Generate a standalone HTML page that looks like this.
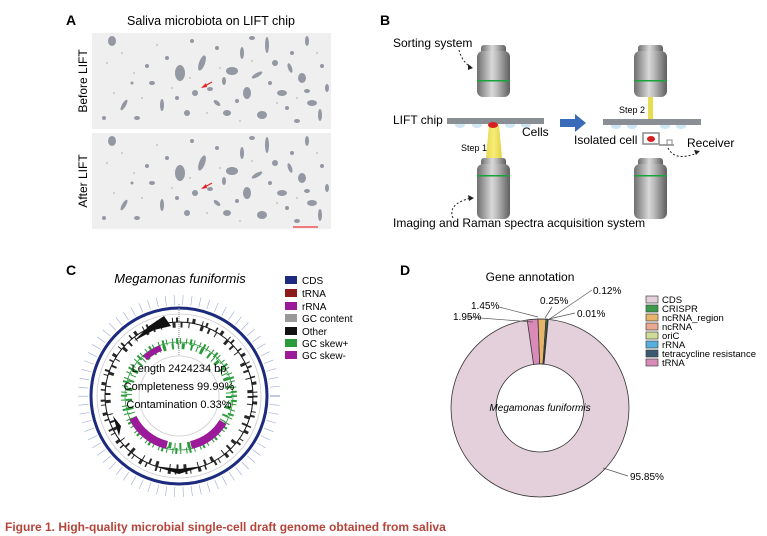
<!DOCTYPE html>
<html><head><meta charset="utf-8"><style>
html,body{margin:0;padding:0;background:#fff}
svg{display:block;font-family:"Liberation Sans",Arial,sans-serif}
</style></head><body>
<svg width="767" height="536" viewBox="0 0 767 536" xmlns="http://www.w3.org/2000/svg">
<defs>
<linearGradient id="obj" x1="0" x2="1" y1="0" y2="0">
<stop offset="0" stop-color="#6e6e6e"/><stop offset="0.45" stop-color="#d8d8d8"/><stop offset="0.6" stop-color="#bdbdbd"/><stop offset="1" stop-color="#5e5e5e"/>
</linearGradient>
<linearGradient id="beam" x1="0" x2="1"><stop offset="0" stop-color="#e8d84a"/><stop offset="0.5" stop-color="#f6ec7a"/><stop offset="1" stop-color="#e3d240"/></linearGradient>
<g id="blobs" fill="#7d8290" fill-opacity="0.8">
<ellipse cx="20" cy="8" rx="4" ry="5"/><ellipse cx="60" cy="50" rx="3" ry="2"/><ellipse cx="32" cy="72" rx="2" ry="6" transform="rotate(30 32 72)"/>
<ellipse cx="75" cy="25" rx="2" ry="2"/><ellipse cx="88" cy="40" rx="5" ry="8"/><ellipse cx="103" cy="60" rx="3" ry="3"/>
<ellipse cx="110" cy="30" rx="3" ry="8" transform="rotate(20 110 30)"/><ellipse cx="125" cy="15" rx="2" ry="2"/><ellipse cx="140" cy="38" rx="6" ry="4"/>
<ellipse cx="118" cy="56" rx="3" ry="2"/><ellipse cx="150" cy="20" rx="2" ry="6"/><ellipse cx="155" cy="60" rx="4" ry="6"/>
<ellipse cx="165" cy="42" rx="6" ry="2" transform="rotate(-30 165 42)"/><ellipse cx="175" cy="12" rx="2" ry="8"/><ellipse cx="183" cy="30" rx="3" ry="3"/>
<ellipse cx="190" cy="60" rx="5" ry="3"/><ellipse cx="200" cy="20" rx="2" ry="2"/><ellipse cx="210" cy="45" rx="4" ry="5"/>
<ellipse cx="220" cy="70" rx="5" ry="3"/><ellipse cx="230" cy="33" rx="2" ry="2"/><ellipse cx="228" cy="82" rx="2" ry="6"/>
<ellipse cx="12" cy="85" rx="2" ry="2"/><ellipse cx="45" cy="85" rx="3" ry="2"/><ellipse cx="70" cy="72" rx="2" ry="6"/>
<ellipse cx="95" cy="80" rx="3" ry="3"/><ellipse cx="135" cy="80" rx="4" ry="3"/><ellipse cx="170" cy="82" rx="5" ry="4"/>
<ellipse cx="205" cy="88" rx="3" ry="2"/><ellipse cx="55" cy="33" rx="2" ry="2"/><ellipse cx="100" cy="8" rx="2" ry="2"/>
<ellipse cx="160" cy="5" rx="3" ry="2"/><ellipse cx="215" cy="8" rx="2" ry="5"/><ellipse cx="85" cy="65" rx="2" ry="2"/>
<ellipse cx="145" cy="68" rx="2" ry="2"/><ellipse cx="195" cy="75" rx="2" ry="2"/><ellipse cx="40" cy="50" rx="1.5" ry="1.5"/>
<ellipse cx="125" cy="70" rx="4" ry="2" transform="rotate(40 125 70)"/><ellipse cx="178" cy="50" rx="2" ry="2"/><ellipse cx="235" cy="55" rx="2" ry="4"/>
<ellipse cx="198" cy="35" rx="2" ry="5" transform="rotate(-20 198 35)"/><ellipse cx="132" cy="48" rx="2" ry="4"/><ellipse cx="215" cy="58" rx="3" ry="2"/>
</g>
<g id="specks" fill="#b8a898" fill-opacity="0.6">
<circle cx="15" cy="30" r="1"/><circle cx="30" cy="20" r="1"/><circle cx="50" cy="65" r="1"/><circle cx="65" cy="12" r="1"/><circle cx="80" cy="55" r="1"/>
<circle cx="98" cy="45" r="1"/><circle cx="115" cy="80" r="1"/><circle cx="128" cy="35" r="1"/><circle cx="148" cy="88" r="1"/><circle cx="160" cy="28" r="1"/>
<circle cx="185" cy="70" r="1"/><circle cx="205" cy="65" r="1"/><circle cx="225" cy="20" r="1"/><circle cx="22" cy="60" r="1"/><circle cx="42" cy="40" r="1"/>
</g>
</defs>

<!-- Panel A -->
<text x="66" y="25" font-size="14" font-weight="bold">A</text>
<text x="211" y="25" font-size="12.5" text-anchor="middle">Saliva microbiota on LIFT chip</text>
<rect x="92" y="33" width="239" height="96" fill="#efefef"/>
<rect x="92" y="133" width="239" height="96" fill="#efefef"/>
<use href="#blobs" x="92" y="33"/>
<use href="#blobs" x="92" y="133"/>
<use href="#specks" x="92" y="33"/>
<use href="#specks" x="92" y="133"/>
<text transform="translate(87 81) rotate(-90)" font-size="12" text-anchor="middle">Before LIFT</text>
<text transform="translate(87 181) rotate(-90)" font-size="12" text-anchor="middle">After LIFT</text>
<g stroke="#e52222" stroke-width="1.2" fill="#e52222">
<line x1="212" y1="82" x2="203" y2="87"/><polygon points="201,88 206,83 207,87" stroke="none"/>
<line x1="212" y1="183" x2="203" y2="188"/><polygon points="201,189 206,184 207,188" stroke="none"/>
</g>
<line x1="293" y1="227" x2="318" y2="227" stroke="#e55" stroke-width="1.5"/>

<!-- Panel B -->
<text x="380" y="25" font-size="14" font-weight="bold">B</text>
<text x="393" y="47" font-size="12">Sorting system</text>
<path d="M459 50 Q462 62 471 67" fill="none" stroke="#222" stroke-dasharray="2,2"/><polygon points="473,68 468,64 468,70" fill="#222"/>
<g>
<rect x="481" y="45" width="25" height="9" rx="3" fill="url(#obj)"/>
<rect x="477" y="51" width="33" height="46" rx="6" fill="url(#obj)"/>
<rect x="477" y="80" width="33" height="1.5" fill="#1aa33a"/>
<rect x="481" y="158" width="25" height="9" rx="3" fill="url(#obj)"/>
<rect x="477" y="164" width="33" height="55" rx="6" fill="url(#obj)"/>
<rect x="477" y="175" width="33" height="1.5" fill="#1aa33a"/>
<rect x="638" y="45" width="25" height="9" rx="3" fill="url(#obj)"/>
<rect x="634" y="51" width="33" height="46" rx="6" fill="url(#obj)"/>
<rect x="634" y="80" width="33" height="1.5" fill="#1aa33a"/>
<rect x="638" y="158" width="25" height="9" rx="3" fill="url(#obj)"/>
<rect x="634" y="164" width="33" height="55" rx="6" fill="url(#obj)"/>
<rect x="634" y="175" width="33" height="1.5" fill="#1aa33a"/>
</g>
<polygon points="489,125 499,125 502,158 486,158" fill="url(#beam)"/>
<g fill="#cfe6f5"><ellipse cx="460" cy="125" rx="5" ry="3"/><ellipse cx="477" cy="125" rx="5" ry="3"/><ellipse cx="510" cy="125" rx="5" ry="3"/><ellipse cx="526" cy="125" rx="5" ry="3"/>
<ellipse cx="616" cy="126" rx="5" ry="3"/><ellipse cx="632" cy="126" rx="5" ry="3"/><ellipse cx="665" cy="126" rx="5" ry="3"/><ellipse cx="681" cy="126" rx="5" ry="3"/></g>
<rect x="447" y="118" width="97" height="6" fill="#8a8f96"/>
<ellipse cx="493" cy="125" rx="5" ry="3" fill="#d61f1f"/>
<rect x="603" y="119" width="98" height="6" fill="#8a8f96"/>
<rect x="648" y="97" width="5" height="22" fill="#e8dc50"/>
<text x="393" y="124" font-size="12">LIFT chip</text>
<text x="522" y="136" font-size="12">Cells</text>
<text x="461" y="151" font-size="9">Step 1</text>
<text x="619" y="113" font-size="9">Step 2</text>
<polygon points="560,119 575,119 575,114 586,123 575,132 575,127 560,127" fill="#3a6bb8"/>
<text x="574" y="144" font-size="12">Isolated cell</text>
<rect x="643" y="133" width="16" height="11" fill="#fff" stroke="#888" stroke-width="1.5"/>
<ellipse cx="651" cy="139" rx="4" ry="3" fill="#d61f1f"/>
<line x1="659" y1="145" x2="674" y2="145" stroke="#888" stroke-width="1.5"/>
<rect x="667" y="140" width="5" height="5" fill="none" stroke="#888"/>
<text x="687" y="147" font-size="12">Receiver</text>
<path d="M668 148 Q675 162 697 153" fill="none" stroke="#222" stroke-dasharray="2,2"/><polygon points="700,151 694,150 696,155" fill="#222"/>
<path d="M453 218 Q447 204 471 198" fill="none" stroke="#222" stroke-dasharray="2,2"/><polygon points="474,198 468,195 469,201" fill="#222"/>
<text x="393" y="227" font-size="12">Imaging and Raman spectra acquisition system</text>

<!-- Panel C -->
<text x="66" y="275" font-size="14" font-weight="bold">C</text>
<text x="180" y="283" font-size="13" font-style="italic" text-anchor="middle">Megamonas funiformis</text>
<g transform="translate(179 396)">
<circle r="96" fill="none" stroke="#6f86cc" stroke-width="10" stroke-dasharray="0.6,8" opacity="0.7"/>
<circle r="88" fill="none" stroke="#1c2b7e" stroke-width="3"/>
<circle r="82" fill="none" stroke="#ccc" stroke-width="0.8"/>
<circle r="40" fill="none" stroke="#ccc" stroke-width="0.8"/>
<circle r="74" fill="none" stroke="#111" stroke-width="1"/>
<circle r="76" fill="none" stroke="#111" stroke-width="5" stroke-dasharray="1.5,4,3,7,1,3,2,9" opacity="0.9"/>
<circle r="71" fill="none" stroke="#111" stroke-width="5" stroke-dasharray="2,6,1,11,3,5" opacity="0.9"/>
<path d="M-45,-55 L-30,-70 L-15,-80 L-8,-70 L-25,-66 Z" fill="#111"/>
<path d="M-60,40 L-66,20 L-58,30 Z" fill="#111"/>
<path d="M-25,70 L0,73 L25,70 L0,78 Z" fill="#111"/>
<circle r="54" fill="none" stroke="#2a9a3a" stroke-width="0.8"/>
<circle r="55" fill="none" stroke="#2a9a3a" stroke-width="6" stroke-dasharray="1,3,2,2,1,5" />
<circle r="50" fill="none" stroke="#2a9a3a" stroke-width="6" stroke-dasharray="2,4,1,3,3,6" />
<path d="M-46,22 A51,51 0 0 0 -12,49" fill="none" stroke="#9a1a9a" stroke-width="8"/>
<path d="M12,49 A51,51 0 0 0 44,26" fill="none" stroke="#9a1a9a" stroke-width="8"/>
<path d="M-34,-38 A51,51 0 0 1 -18,-48" fill="none" stroke="#9a1a9a" stroke-width="6"/>
<line x1="0" y1="-92" x2="0" y2="-40" stroke="#888" stroke-dasharray="1,1"/>
</g>
<text x="179" y="372" font-size="11" text-anchor="middle">Length 2424234 bp</text>
<text x="179" y="390" font-size="11" text-anchor="middle">Completeness 99.99%</text>
<text x="179" y="408" font-size="11" text-anchor="middle">Contamination 0.33%</text>
<g font-size="10">
<rect x="285" y="276" width="12" height="8" fill="#1c2b7e"/><text x="302" y="284">CDS</text>
<rect x="285" y="289" width="12" height="8" fill="#8e1b1b"/><text x="302" y="297">tRNA</text>
<rect x="285" y="302" width="12" height="8" fill="#9a1a9a"/><text x="302" y="310">rRNA</text>
<rect x="285" y="314" width="12" height="8" fill="#999"/><text x="302" y="322">GC content</text>
<rect x="285" y="327" width="12" height="8" fill="#111"/><text x="302" y="335">Other</text>
<rect x="285" y="339" width="12" height="8" fill="#2a9a3a"/><text x="302" y="347">GC skew+</text>
<rect x="285" y="351" width="12" height="8" fill="#9a1a9a"/><text x="302" y="359">GC skew-</text>
</g>

<!-- Panel D -->
<text x="400" y="275" font-size="14" font-weight="bold">D</text>
<text x="530" y="281" font-size="12" text-anchor="middle">Gene annotation</text>
<g transform="translate(540 408)" stroke="#333" stroke-width="0.8">
<circle r="89" fill="#e4d0db"/>
<path d="M-12.8,-88.1 L-2,-89 L-0.3,-44 L-6.4,-43.5 Z" fill="#d98ab8"/>
<path d="M-2,-89 L6,-88.8 L3,-44 L-0.3,-44 Z" fill="#e6b46a"/>
<path d="M6,-88.8 L7.5,-88.7 L3.7,-43.8 L3,-44 Z" fill="#3c9a4a"/>
<path d="M7.5,-88.7 L8.2,-88.6 L4,-43.8 L3.7,-43.8 Z" fill="#3a5870"/>
<circle r="44" fill="#fff"/>
</g>
<text x="540" y="411" font-size="10" font-style="italic" text-anchor="middle">Megamonas funiformis</text>
<g stroke="#555" stroke-width="0.7" fill="none">
<polyline points="467,317 533,322"/>
<polyline points="499,307 538,317"/>
<polyline points="552,307 545,318"/>
<polyline points="592,290 548,320"/>
<polyline points="575,313 549,319"/>
<polyline points="603,468 628,476"/>
</g>
<g font-size="10">
<text x="453" y="320">1.95%</text>
<text x="471" y="309">1.45%</text>
<text x="540" y="304">0.25%</text>
<text x="593" y="294">0.12%</text>
<text x="577" y="317">0.01%</text>
<text x="630" y="480">95.85%</text>
</g>
<g font-size="9.5" stroke="#444" stroke-width="0.7">
<rect x="646" y="296" width="12" height="7" fill="#e4d0db"/>
<rect x="646" y="305" width="12" height="7" fill="#3c9a4a"/>
<rect x="646" y="314" width="12" height="7" fill="#e6b46a"/>
<rect x="646" y="323" width="12" height="7" fill="#eaa890"/>
<rect x="646" y="332" width="12" height="7" fill="#cfdc98"/>
<rect x="646" y="341" width="12" height="7" fill="#55b0e0"/>
<rect x="646" y="350" width="12" height="7" fill="#3a5870"/>
<rect x="646" y="359" width="12" height="7" fill="#d98ab8"/>
</g>
<g font-size="9.5">
<text x="662" y="303">CDS</text>
<text x="662" y="312">CRISPR</text>
<text x="662" y="321">ncRNA_region</text>
<text x="662" y="330">ncRNA</text>
<text x="662" y="339">oriC</text>
<text x="662" y="348">rRNA</text>
<text x="662" y="357">tetracycline resistance</text>
<text x="662" y="366">tRNA</text>
</g>

<text x="5" y="531" font-size="12" font-weight="bold" fill="#b5443a">Figure 1.  High-quality microbial single-cell draft genome obtained from saliva</text>
</svg>
</body></html>
